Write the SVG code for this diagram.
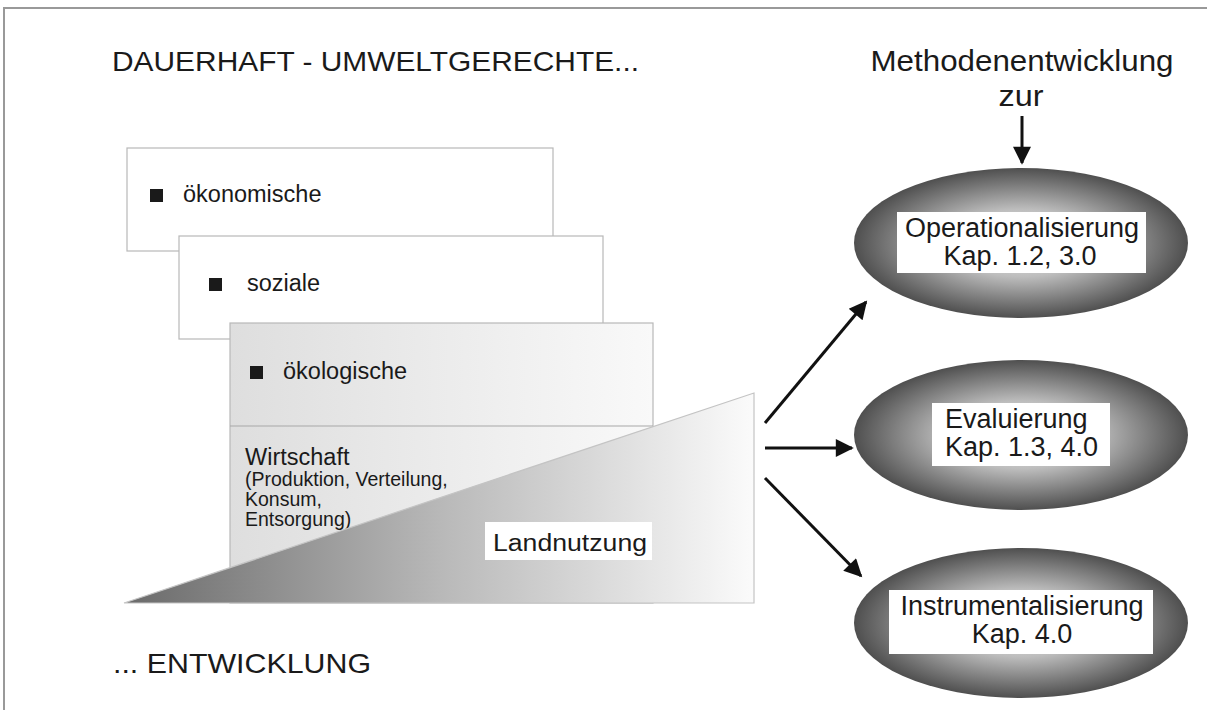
<svg xmlns="http://www.w3.org/2000/svg" width="1207" height="710" viewBox="0 0 1207 710">
<style>
text{font-family:"Liberation Sans",Arial,sans-serif;fill:#1a1a1a}
.card{stroke:#b8b8b8;stroke-width:1.2}
.lbl{font-size:23.5px}
.big{font-size:27.5px}
.ell{font-size:27px;text-anchor:middle}
.sub{font-size:19.5px}
.conn{stroke:#111;stroke-width:3;fill:none;marker-end:url(#ah)}
</style>
<defs>
<marker id="ah" viewBox="0 0 10 10" refX="9" refY="5" markerWidth="7" markerHeight="6" orient="auto" markerUnits="strokeWidth">
<path d="M0,0 L10,5 L0,10 z" fill="#111"/>
</marker>
<linearGradient id="boxg" x1="0" y1="0" x2="1" y2="0">
<stop offset="0" stop-color="#dedede"/>
<stop offset="1" stop-color="#f9f9f9"/>
</linearGradient>
<linearGradient id="trig" x1="0" y1="0" x2="1" y2="0">
<stop offset="0" stop-color="#6a6a6a"/>
<stop offset="0.5" stop-color="#b8b8b8"/>
<stop offset="1" stop-color="#fbfbfb"/>
</linearGradient>
<radialGradient id="ellg" cx="0.5" cy="0.5" r="0.5">
<stop offset="0" stop-color="#efefef"/>
<stop offset="0.45" stop-color="#bdbdbd"/>
<stop offset="1" stop-color="#4f4f4f"/>
</radialGradient>
</defs>
<rect width="1207" height="710" fill="#fff"/>
<path d="M4,710 V8 H1207" fill="none" stroke="#999" stroke-width="2"/>

<text class="big" x="112" y="71" textLength="527" lengthAdjust="spacingAndGlyphs">DAUERHAFT - UMWELTGERECHTE...</text>
<text class="big" x="113" y="673" textLength="258" lengthAdjust="spacingAndGlyphs">... ENTWICKLUNG</text>

<g id="oekonomische">
<rect class="card" x="127" y="148" width="426" height="103" fill="#fff"/>
<rect x="150" y="189" width="13" height="13" fill="#1a1a1a"/>
<text class="lbl" x="183" y="202">ökonomische</text>
</g>
<g id="soziale">
<rect class="card" x="179" y="236" width="424" height="103" fill="#fff"/>
<rect x="209" y="278" width="13" height="13" fill="#1a1a1a"/>
<text class="lbl" x="247" y="291">soziale</text>
</g>
<g id="oekologische">
<rect class="card" x="230" y="323" width="423" height="280" fill="url(#boxg)"/>
<line x1="230" y1="426" x2="653" y2="426" stroke="#a8a8a8" stroke-width="1.2"/>
<rect x="250" y="366" width="13" height="13" fill="#1a1a1a"/>
<text class="lbl" x="283" y="379">ökologische</text>
<text x="245" y="465" style="font-size:23.5px">Wirtschaft</text>
<text class="sub" x="245" y="486">(Produktion, Verteilung,</text>
<text class="sub" x="245" y="506">Konsum,</text>
<text class="sub" x="245" y="526">Entsorgung)</text>
</g>
<g id="landnutzung">
<path d="M124,603 L754,393 L754,603 Z" fill="url(#trig)" stroke="#c4c4c4" stroke-width="1.2"/>
<rect x="485" y="522" width="167" height="38" fill="#fff"/>
<text class="lbl" x="493" y="551" textLength="154" lengthAdjust="spacingAndGlyphs">Landnutzung</text>
</g>

<g id="methoden">
<text x="1022" y="71" style="font-size:29px;text-anchor:middle" textLength="303" lengthAdjust="spacingAndGlyphs">Methodenentwicklung</text>
<text x="1021" y="106" style="font-size:29px;text-anchor:middle" textLength="45" lengthAdjust="spacingAndGlyphs">zur</text>
</g>

<g id="operationalisierung">
<ellipse cx="1021" cy="243" rx="167" ry="75" fill="url(#ellg)"/>
<rect x="897" y="212" width="249" height="61" fill="#fff"/>
<text class="ell" x="1022" y="237">Operationalisierung</text>
<text class="ell" x="1020" y="265">Kap. 1.2, 3.0</text>
</g>
<g id="evaluierung">
<ellipse cx="1021" cy="435" rx="167" ry="75" fill="url(#ellg)"/>
<rect x="932" y="403" width="178" height="63" fill="#fff"/>
<text class="ell" x="945" y="428" style="text-anchor:start">Evaluierung</text>
<text class="ell" x="945" y="456" style="text-anchor:start">Kap. 1.3, 4.0</text>
</g>
<g id="instrumentalisierung">
<ellipse cx="1021" cy="623" rx="167" ry="75" fill="url(#ellg)"/>
<rect x="889" y="590" width="264" height="64" fill="#fff"/>
<text class="ell" x="1022" y="615">Instrumentalisierung</text>
<text class="ell" x="1022" y="643">Kap. 4.0</text>
</g>

<g id="connectors">
<line class="conn" x1="1022" y1="116" x2="1022" y2="163"/>
<line class="conn" x1="765" y1="423" x2="866" y2="302"/>
<line class="conn" x1="765" y1="448" x2="852" y2="448"/>
<line class="conn" x1="765" y1="478" x2="861" y2="576"/>
</g>
</svg>
